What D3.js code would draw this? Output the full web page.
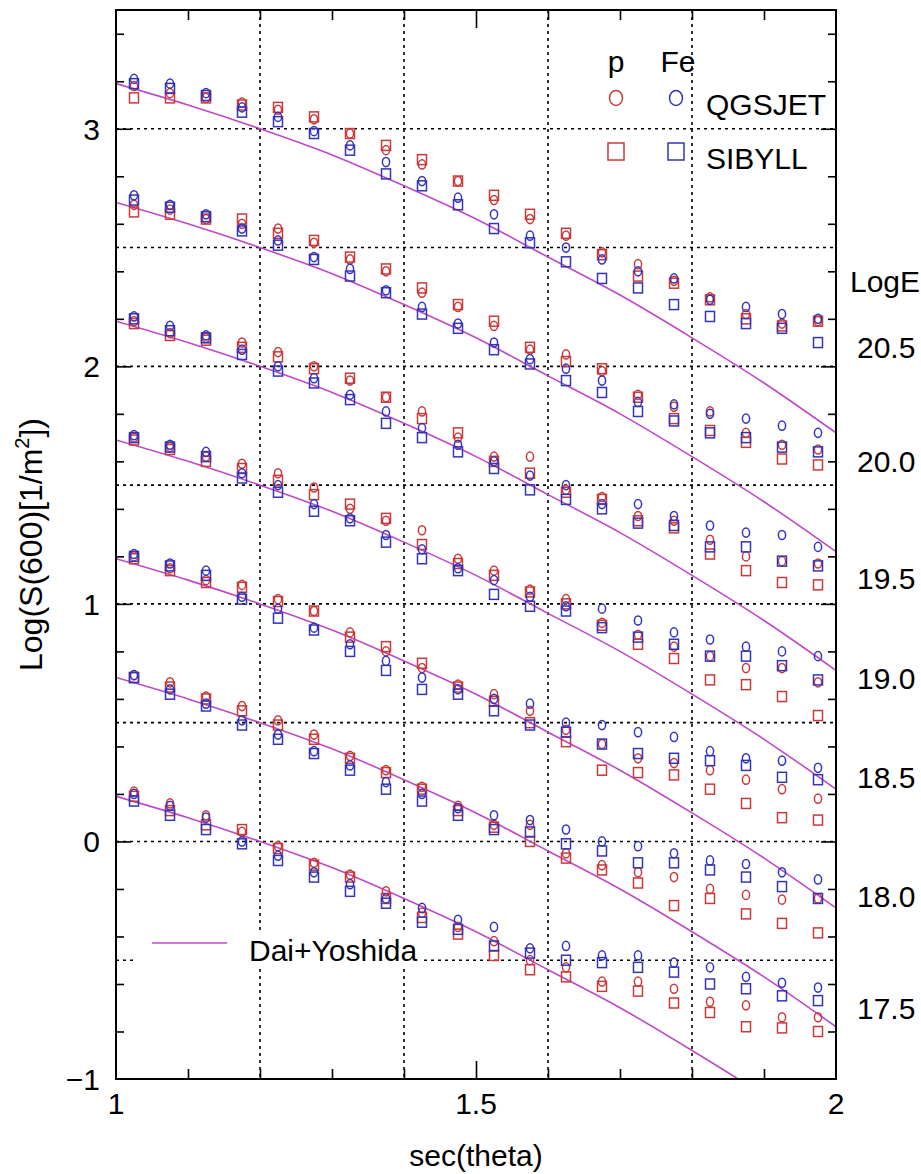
<!DOCTYPE html>
<html>
<head>
<meta charset="utf-8">
<script src="https://cdn.jsdelivr.net/npm/d3@7"></script>
<style>
  html, body { margin: 0; padding: 0; background: #fff; }
  svg { display: block; }
  text { font-family: "Liberation Sans", Arial, Helvetica, sans-serif; fill: #000; }
</style>
</head>
<body>
<svg id="chart" width="921" height="1174"></svg>
<script>
// ---------------- data ----------------
const secTheta = [1.025, 1.075, 1.125, 1.175, 1.225, 1.275, 1.325, 1.375, 1.425, 1.475,
                  1.525, 1.575, 1.625, 1.675, 1.725, 1.775, 1.825, 1.875, 1.925, 1.975];
const logE = ["20.5", "20.0", "19.5", "19.0", "18.5", "18.0", "17.5"];
// y-position (in Log S units) at which each LogE label sits on the right
const logELabelY = [2.08, 1.60, 1.11, 0.69, 0.27, -0.23, -0.70];

// p, QGSJET (red circles) — one row per LogE
const pQGSJET = [
  [3.18,3.15,3.13,3.11,3.08,3.04,2.98,2.91,2.85,2.78,2.70,2.62,2.55,2.48,2.43,2.36,2.29,2.22,2.18,2.19],
  [2.68,2.66,2.62,2.60,2.58,2.52,2.45,2.40,2.31,2.25,2.17,2.07,2.05,1.98,1.88,1.83,1.81,1.72,1.67,1.65],
  [2.19,2.14,2.12,2.10,2.06,2.00,1.94,1.87,1.81,1.70,1.62,1.62,1.48,1.45,1.37,1.35,1.27,1.20,1.18,1.17],
  [1.70,1.66,1.62,1.59,1.55,1.49,1.40,1.35,1.31,1.19,1.14,1.06,1.02,0.92,0.87,0.82,0.78,0.73,0.73,0.67],
  [1.20,1.15,1.10,1.08,1.02,0.97,0.88,0.80,0.73,0.66,0.62,0.55,0.47,0.41,0.35,0.33,0.30,0.26,0.22,0.18],
  [0.70,0.67,0.61,0.57,0.51,0.45,0.36,0.30,0.23,0.15,0.07,0.07,-0.05,-0.10,-0.13,-0.15,-0.20,-0.225,-0.245,-0.24],
  [0.21,0.16,0.11,0.04,-0.02,-0.09,-0.14,-0.21,-0.30,-0.36,-0.42,-0.50,-0.53,-0.59,-0.59,-0.62,-0.675,-0.69,-0.74,-0.74]
];
// Fe, QGSJET (blue circles)
const feQGSJET = [
  [3.21,3.19,3.15,3.09,3.05,2.99,2.93,2.86,2.78,2.71,2.64,2.55,2.50,2.45,2.40,2.37,2.28,2.25,2.22,2.20],
  [2.72,2.68,2.64,2.58,2.53,2.46,2.41,2.32,2.25,2.18,2.10,2.03,1.99,1.94,1.85,1.84,1.80,1.78,1.75,1.72],
  [2.21,2.17,2.13,2.07,2.00,1.95,1.88,1.81,1.74,1.67,1.60,1.54,1.50,1.42,1.42,1.37,1.33,1.30,1.29,1.24],
  [1.71,1.67,1.64,1.55,1.50,1.42,1.36,1.29,1.23,1.15,1.10,1.03,0.99,0.98,0.93,0.88,0.85,0.82,0.80,0.78],
  [1.21,1.17,1.14,1.03,0.98,0.90,0.83,0.76,0.69,0.64,0.60,0.58,0.50,0.49,0.46,0.44,0.38,0.35,0.34,0.31],
  [0.70,0.64,0.58,0.51,0.45,0.38,0.32,0.25,0.20,0.14,0.11,0.09,0.05,0.00,-0.02,-0.05,-0.08,-0.095,-0.13,-0.16],
  [0.20,0.15,0.10,0.00,-0.06,-0.13,-0.18,-0.24,-0.28,-0.33,-0.36,-0.45,-0.44,-0.48,-0.48,-0.51,-0.53,-0.57,-0.595,-0.615]
];
// p, SIBYLL (red squares)
const pSIBYLL = [
  [3.13,3.13,3.13,3.10,3.09,3.05,2.98,2.93,2.87,2.78,2.72,2.64,2.56,2.47,2.38,2.35,2.28,2.20,2.17,2.19],
  [2.65,2.64,2.62,2.62,2.56,2.53,2.46,2.41,2.33,2.26,2.19,2.08,2.02,1.99,1.87,1.78,1.73,1.68,1.61,1.585],
  [2.18,2.13,2.11,2.08,2.04,1.99,1.95,1.87,1.78,1.72,1.60,1.55,1.47,1.44,1.35,1.32,1.21,1.14,1.09,1.08],
  [1.69,1.65,1.60,1.57,1.52,1.46,1.42,1.36,1.25,1.17,1.12,1.05,1.00,0.91,0.83,0.77,0.68,0.66,0.61,0.53],
  [1.19,1.14,1.09,1.07,1.01,0.97,0.86,0.82,0.75,0.65,0.59,0.50,0.42,0.30,0.29,0.28,0.22,0.16,0.10,0.09],
  [0.69,0.65,0.60,0.55,0.49,0.43,0.35,0.29,0.22,0.13,0.06,0.00,-0.07,-0.12,-0.175,-0.27,-0.24,-0.305,-0.345,-0.385],
  [0.19,0.13,0.07,0.05,-0.03,-0.10,-0.15,-0.24,-0.32,-0.39,-0.48,-0.54,-0.57,-0.61,-0.63,-0.68,-0.72,-0.78,-0.785,-0.80]
];
// Fe, SIBYLL (blue squares)
const feSIBYLL = [
  [3.19,3.17,3.14,3.07,3.03,2.98,2.91,2.81,2.76,2.68,2.58,2.52,2.44,2.37,2.33,2.26,2.21,2.18,2.16,2.10],
  [2.70,2.67,2.63,2.57,2.51,2.45,2.38,2.31,2.22,2.16,2.07,2.01,1.94,1.89,1.81,1.77,1.72,1.70,1.66,1.64],
  [2.20,2.15,2.12,2.05,1.98,1.93,1.86,1.76,1.70,1.64,1.57,1.48,1.44,1.40,1.34,1.33,1.24,1.24,1.18,1.16],
  [1.70,1.66,1.62,1.53,1.47,1.39,1.35,1.26,1.19,1.14,1.04,0.99,0.97,0.90,0.86,0.83,0.78,0.78,0.74,0.68],
  [1.20,1.16,1.12,1.02,0.94,0.89,0.80,0.72,0.64,0.62,0.55,0.49,0.46,0.41,0.37,0.35,0.34,0.32,0.27,0.26],
  [0.69,0.62,0.57,0.49,0.43,0.37,0.30,0.22,0.17,0.11,0.05,0.04,-0.01,-0.04,-0.09,-0.09,-0.12,-0.15,-0.19,-0.24],
  [0.17,0.11,0.05,-0.01,-0.08,-0.15,-0.21,-0.26,-0.34,-0.37,-0.44,-0.47,-0.50,-0.51,-0.53,-0.55,-0.60,-0.62,-0.65,-0.67]
];

// Dai+Yoshida curves, sampled at these sec(theta) values
const curveX = [1.0, 1.1, 1.2, 1.3, 1.4, 1.5, 1.6, 1.7, 1.8, 1.9, 2.0];
const daiYoshida = [
  [3.19,3.10,3.00,2.89,2.76,2.62,2.46,2.30,2.12,1.93,1.72],
  [2.69,2.60,2.50,2.39,2.26,2.12,1.96,1.80,1.62,1.43,1.22],
  [2.19,2.10,2.00,1.89,1.76,1.62,1.46,1.30,1.12,0.93,0.72],
  [1.69,1.60,1.50,1.39,1.26,1.12,0.96,0.80,0.62,0.43,0.22],
  [1.19,1.10,1.00,0.89,0.76,0.62,0.46,0.30,0.12,-0.07,-0.28],
  [0.69,0.60,0.50,0.39,0.26,0.12,-0.04,-0.20,-0.38,-0.57,-0.78],
  [0.19,0.10,0.00,-0.11,-0.24,-0.38,-0.54,-0.70,-0.88,-1.07,-1.28]
];

// axis ticks
const xTickLabels = [1, 1.5, 2];
const xTickLabelText = ["1", "1.5", "2"];
const yTickLabels = [-1, 0, 1, 2, 3];
const yTickLabelText = ["\u22121", "0", "1", "2", "3"];
const xGrid = [1.2, 1.4, 1.6, 1.8];
const yGrid = [-0.5, 0, 0.5, 1, 1.5, 2, 2.5, 3];
const xMinorTicks = [1.1, 1.2, 1.3, 1.4, 1.6, 1.7, 1.8, 1.9];
const xMajorTicks = [1.5];
const yMinorTicks = [-0.8, -0.6, -0.4, -0.2, 0.2, 0.4, 0.6, 0.8, 1.2, 1.4, 1.6, 1.8, 2.2, 2.4, 2.6, 2.8, 3.2, 3.4];
const yMajorTicks = [0, 1, 2, 3];

// ---------------- drawing ----------------
const RED = "#c83a3a", BLUE = "#3434b8", MAG = "#c048c8";
const L = 116, R = 836, T = 10, B = 1079;
const svg = d3.select("#chart");
const x = d3.scaleLinear().domain([1, 2]).range([L, R]);
const y = d3.scaleLinear().domain([-1, 3.5]).range([B, T]);

svg.append("defs").append("clipPath").attr("id", "plotclip")
  .append("rect").attr("x", L).attr("y", T).attr("width", R - L).attr("height", B - T);

// grid
const grid = svg.append("g").attr("stroke", "#000").attr("stroke-width", 1.6)
  .attr("stroke-dasharray", "3,4");
grid.selectAll(".gx").data(xGrid).join("line")
  .attr("x1", d => x(d)).attr("x2", d => x(d)).attr("y1", T).attr("y2", B);
grid.selectAll(".gy").data(yGrid).join("line")
  .attr("x1", L).attr("x2", R).attr("y1", d => y(d)).attr("y2", d => y(d));

// axes ticks (inward)
function tickAxis(axisFn, scale, vals, size, tr) {
  const g = svg.append("g").attr("transform", tr)
    .call(axisFn(scale).tickValues(vals).tickSize(size).tickFormat(""));
  g.select(".domain").remove();
  g.selectAll(".tick line").attr("stroke", "#000").attr("stroke-width", 1.6);
}
tickAxis(d3.axisBottom, x, xMinorTicks, -10, `translate(0,${B})`);
tickAxis(d3.axisBottom, x, xMajorTicks, -18, `translate(0,${B})`);
tickAxis(d3.axisTop, x, xMinorTicks, -10, `translate(0,${T})`);
tickAxis(d3.axisTop, x, xMajorTicks, -18, `translate(0,${T})`);
tickAxis(d3.axisLeft, y, yMinorTicks, -8, `translate(${L},0)`);
tickAxis(d3.axisLeft, y, yMajorTicks, -15, `translate(${L},0)`);
tickAxis(d3.axisRight, y, yMinorTicks, -8, `translate(${R},0)`);
tickAxis(d3.axisRight, y, yMajorTicks, -15, `translate(${R},0)`);

// curves
const line = d3.line().x((d, i) => x(curveX[i])).y(d => y(d)).curve(d3.curveMonotoneX);
svg.append("g").attr("clip-path", "url(#plotclip)")
  .selectAll("path").data(daiYoshida).join("path")
  .attr("d", line).attr("fill", "none").attr("stroke", MAG).attr("stroke-width", 1.6);

// markers
const marks = svg.append("g").attr("fill", "none").attr("stroke-width", 1.5);
function drawCircles(data, color) {
  data.forEach(row => {
    marks.append("g").selectAll("ellipse").data(row).join("ellipse")
      .attr("cx", (d, i) => x(secTheta[i])).attr("cy", d => y(d))
      .attr("rx", 3.6).attr("ry", 4.6).attr("stroke", color);
  });
}
function drawSquares(data, color) {
  data.forEach(row => {
    marks.append("g").selectAll("rect").data(row).join("rect")
      .attr("x", (d, i) => x(secTheta[i]) - 4.5).attr("y", d => y(d) - 5)
      .attr("width", 9).attr("height", 10).attr("stroke", color);
  });
}
drawSquares(pSIBYLL, RED);
drawCircles(pQGSJET, RED);
drawSquares(feSIBYLL, BLUE);
drawCircles(feQGSJET, BLUE);

// Dai+Yoshida legend (white box hides grid)
svg.append("rect").attr("x", 137).attr("y", 932).attr("width", 283).attr("height", 35).attr("fill", "#fff");
svg.append("line").attr("x1", 152).attr("x2", 227).attr("y1", 943).attr("y2", 943)
  .attr("stroke", MAG).attr("stroke-width", 1.6);
svg.append("text").attr("x", 249).attr("y", 961).attr("font-size", 30).text("Dai+Yoshida");

// frame
svg.append("rect").attr("x", L).attr("y", T).attr("width", R - L).attr("height", B - T)
  .attr("fill", "none").attr("stroke", "#000").attr("stroke-width", 2);

// tick labels
svg.selectAll(".xl").data(xTickLabels).join("text")
  .attr("x", d => x(d)).attr("y", B + 35).attr("text-anchor", "middle")
  .attr("font-size", 30).text((d, i) => xTickLabelText[i]);
svg.selectAll(".yl").data(yTickLabels).join("text")
  .attr("x", 100).attr("y", d => y(d) + 11).attr("text-anchor", "end")
  .attr("font-size", 30).text((d, i) => yTickLabelText[i]);

// axis titles
svg.append("text").attr("x", x(1.5)).attr("y", 1166).attr("text-anchor", "middle")
  .attr("font-size", 30).text("sec(theta)");
const yt = svg.append("text").attr("transform", `translate(42,${y(1.25)}) rotate(-90)`)
  .attr("text-anchor", "middle").attr("font-size", 32);
yt.append("tspan").text("Log(S(600)[1/m");
yt.append("tspan").attr("font-size", 20).attr("dy", -13).text("2");
yt.append("tspan").attr("dy", 13).text("])");

// right LogE labels
svg.append("text").attr("x", 850).attr("y", 292).attr("font-size", 30).text("LogE");
svg.selectAll(".le").data(logE).join("text")
  .attr("x", 857).attr("y", (d, i) => y(logELabelY[i]) + 11)
  .attr("font-size", 30).text(d => d);

// top-right legend
svg.append("text").attr("x", 616).attr("y", 72).attr("text-anchor", "middle").attr("font-size", 30).text("p");
svg.append("text").attr("x", 678).attr("y", 72).attr("text-anchor", "middle").attr("font-size", 30).text("Fe");
const leg = svg.append("g").attr("fill", "none").attr("stroke-width", 1.5);
leg.append("ellipse").attr("cx", 616).attr("cy", 98).attr("rx", 6.5).attr("ry", 7.5).attr("stroke", RED);
leg.append("ellipse").attr("cx", 676).attr("cy", 98).attr("rx", 6.5).attr("ry", 7.5).attr("stroke", BLUE);
leg.append("rect").attr("x", 608).attr("y", 143).attr("width", 16).attr("height", 17).attr("stroke", RED);
leg.append("rect").attr("x", 668).attr("y", 143).attr("width", 16).attr("height", 17).attr("stroke", BLUE);
svg.append("text").attr("x", 706).attr("y", 115).attr("font-size", 30).text("QGSJET");
svg.append("text").attr("x", 706).attr("y", 169).attr("font-size", 30).text("SIBYLL");
</script>
</body>
</html>
